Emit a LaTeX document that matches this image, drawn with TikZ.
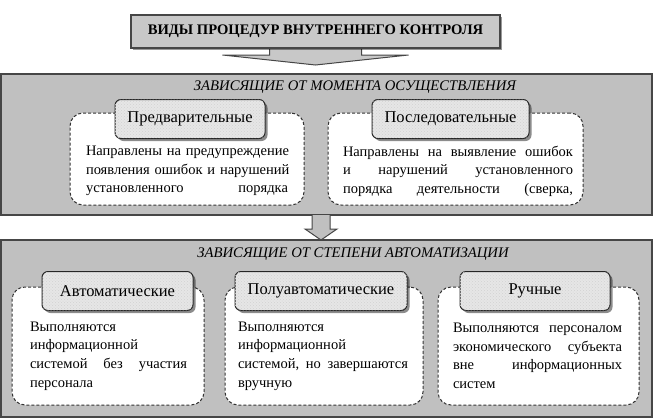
\documentclass[tikz,border=0pt]{standalone}
\usepackage{fontspec}
\setmainfont{Liberation Serif}
\usetikzlibrary{shadows,patterns,calc}
\definecolor{panelgray}{RGB}{192,192,192}
\definecolor{titlegray}{RGB}{200,200,200}
\definecolor{edgegray}{RGB}{70,70,70}
\definecolor{labelfill}{RGB}{230,230,230}
\newcommand{\jl}[2]{\leavevmode\hbox to #1{#2}}
\newcommand{\js}{ \hfill}
\begin{document}
\begin{tikzpicture}[x=1pt,y=-1pt,
  panel/.style={draw=edgegray, line width=1.2pt, fill=panelgray, minimum width=651pt, inner sep=0},
  descbox/.style={draw=black!80, dash pattern=on 3pt off 2pt, line width=1pt, fill=white, rounded corners=13pt, inner sep=0},
  labelbox/.style={draw=black!85, line width=1pt, rounded corners=6pt, fill=labelfill,
    postaction={pattern=crosshatch dots, pattern color=gray!35},
    drop shadow={shadow xshift=2.5pt, shadow yshift=-2.5pt, fill=black, opacity=0.45},
    inner sep=0, minimum height=39pt, font=\fontsize{16.5}{19}\selectfont},
  desc/.style={inner sep=0, align=left, font=\fontsize{14.5}{18.6}\selectfont},
  ptitle/.style={font=\fontsize{14.7}{18}\selectfont\itshape, inner sep=0},
  blockarrow/.style={draw=edgegray, line width=1pt, line join=miter},
]
\useasboundingbox (0,0) rectangle (655,418);

% title and its arrow
\coordinate (ta) at (315.5,48);
\filldraw[blockarrow, fill=titlegray] ($(ta)+(-46,0)$) -- ++(0,7) -- ($(ta)+(-93,7)$) -- ($(ta)+(0,17)$) -- ($(ta)+(93,7)$) -- ($(ta)+(46,7)$) -- ($(ta)+(46,0)$);
\node[draw=edgegray, line width=1.2pt, fill=titlegray, minimum width=369pt, minimum height=33pt, inner sep=0,
  drop shadow={shadow xshift=1.5pt, shadow yshift=-1.5pt, fill=black, opacity=0.4},
  font=\fontsize{14.6}{18}\selectfont\bfseries] (title) at (315.5,31.5) {ВИДЫ ПРОЦЕДУР ВНУТРЕННЕГО КОНТРОЛЯ};

% panel 1
\node[panel, minimum height=141pt] (p1) at (326.5,144.5) {};
\node[ptitle] (t1) at (355,87) {ЗАВИСЯЩИЕ ОТ МОМЕНТА ОСУЩЕСТВЛЕНИЯ};
\node[descbox, minimum width=234pt, minimum height=92pt] (d1) at (187,159) {};
\node[descbox, minimum width=255pt, minimum height=92pt] (d2) at (455.5,159) {};
\node[labelbox, minimum width=150pt] (l1) at (190,119) {Предварительные};
\node[labelbox, minimum width=157pt] (l2) at (450.5,119) {Последовательные};
\node[desc, text width=202pt] (x1) at (187,171) {\jl{202pt}{Направлены\js на\js предупреждение}\\\jl{202pt}{появления\js ошибок\js и\js нарушений}\\\jl{202pt}{установленного\js порядка}};
\node[desc, text width=230pt] (x2) at (458,171) {\jl{230pt}{Направлены\js на\js выявление\js ошибок}\\\jl{230pt}{и\js нарушений\js установленного}\\\jl{230pt}{порядка\js деятельности\js (сверка,}};

% panel 2
\node[panel, minimum height=177pt] (p2) at (326.5,328.5) {};
\node[ptitle] (t2) at (353,254) {ЗАВИСЯЩИЕ ОТ СТЕПЕНИ АВТОМАТИЗАЦИИ};
\node[descbox, minimum width=192pt, minimum height=118pt] (d3) at (108,346) {};
\node[descbox, minimum width=198pt, minimum height=118pt] (d4) at (324,346) {};
\node[descbox, minimum width=201pt, minimum height=118pt] (d5) at (538.5,346) {};
\node[labelbox, minimum width=151pt] (l3) at (117.5,291) {Автоматические};
\node[labelbox, minimum width=172pt] (l4) at (321,291) {Полуавтоматические};
\node[labelbox, minimum width=150pt] (l5) at (535,291) {Ручные};
\node[desc, text width=157pt] (x3) at (108.5,356) {Выполняются\\информационной\\\jl{157pt}{системой\js без\js участия}\\персонала};
\node[desc, text width=170pt] (x4) at (323,356) {Выполняются\\информационной\\\jl{170pt}{системой,\js но\js завершаются}\\вручную};
\node[desc, text width=169pt] (x5) at (537.5,356) {\jl{169pt}{Выполняются\js персоналом}\\\jl{169pt}{экономического\js субъекта}\\\jl{169pt}{вне\js информационных}\\систем};

% arrow between panels
\coordinate (ma) at (321,215);
\filldraw[blockarrow, fill=panelgray] ($(ma)+(-9,0)$) -- ($(ma)+(-9,14)$) -- ($(ma)+(-16,14)$) -- ($(ma)+(0,25)$) -- ($(ma)+(16,14)$) -- ($(ma)+(9,14)$) -- ($(ma)+(9,0)$);
\end{tikzpicture}
\end{document}
